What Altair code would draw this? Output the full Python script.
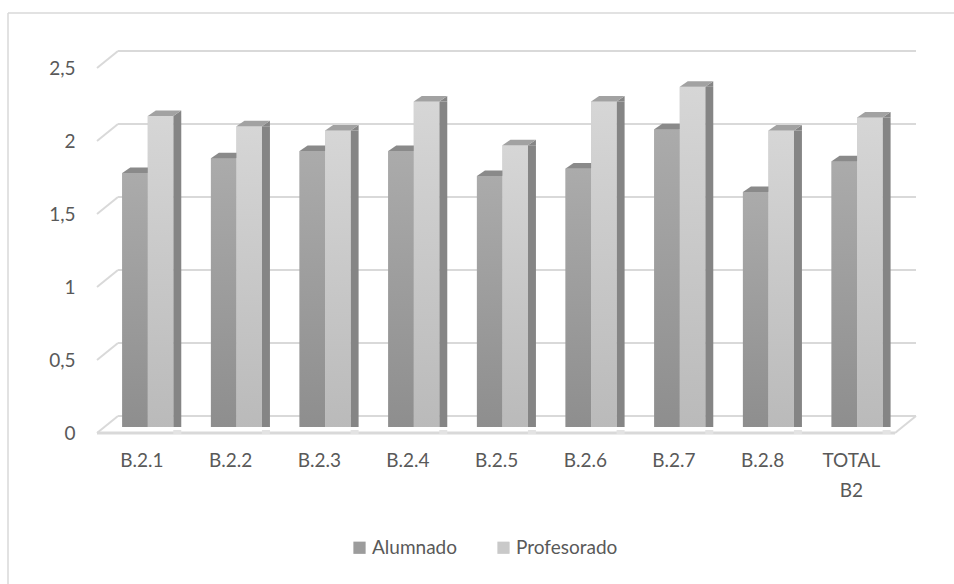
import altair as alt
import pandas as pd

# ---------------- data ----------------
categories = ["B.2.1", "B.2.2", "B.2.3", "B.2.4", "B.2.5", "B.2.6", "B.2.7", "B.2.8", "TOTAL B2"]
alumnado = [1.74, 1.84, 1.89, 1.89, 1.72, 1.77, 2.04, 1.61, 1.82]
profesorado = [2.13, 2.06, 2.03, 2.23, 1.93, 2.23, 2.33, 2.03, 2.12]
series_names = ["Alumnado", "Profesorado"]
y_ticks = [0, 0.5, 1, 1.5, 2, 2.5]

# ---------------- style / layout ----------------
FONT = "Lato"
TXT = "#595959"
GRID = "#d9d9d9"
W, H = 798, 365
PAD = {"left": 97, "top": 68, "right": 59, "bottom": 151}
DX, DY = 21, -17          # back-wall offset (px)
BASE_OFF = -6             # bars sit a bit behind the front edge
BW = 0.2876               # bar width in category units (~25.5 px)
START = 0.285             # bar start inside category
SIDE = 8 / 88.667         # side-face depth in category units
TOP_W = 25.5
TDX, TDY = 8, -5.5

n = len(categories)
df = pd.DataFrame({"cat": categories, "idx": list(range(n)),
                   "Alumnado": alumnado, "Profesorado": profesorado})
long = df.melt(id_vars=["cat", "idx"], value_vars=series_names,
               var_name="series", value_name="value")
ticks = pd.DataFrame({"v": y_ticks})

xs = alt.Scale(domain=[0, n], nice=False, zero=False)
ys = alt.Scale(domain=[0, 2.5], nice=False, zero=True)
YAX = alt.Axis(values=y_ticks, format="~g",
               labelExpr="replace(datum.label, '.', ',')",
               domain=False, ticks=False, grid=False,
               labelFont=FONT, labelFontSize=19, labelColor=TXT,
               labelPadding=22)


def yenc(field):
    return alt.Y(field, scale=ys, axis=YAX, title=None)


def xenc(field):
    return alt.X(field, scale=xs, axis=None, title=None)


bars_base = alt.Chart(long).transform_calculate(
    x0=f"datum.idx + {START} + (datum.series == 'Profesorado' ? {BW} : 0)",
    x1=f"datum.idx + {START} + {BW} + (datum.series == 'Profesorado' ? {BW} : 0)",
    xs2=f"datum.idx + {START} + (datum.series == 'Profesorado' ? {BW} : 0) + {BW} + {SIDE}",
    base="0",
)

# back wall gridlines
grid = alt.Chart(ticks).transform_calculate(a="0", b=str(n)).mark_rule(
    color=GRID, strokeWidth=2, xOffset=DX, x2Offset=DX, yOffset=DY
).encode(x=xenc("a:Q"), x2="b:Q", y=yenc("v:Q"))

# left diagonal connectors
diag = alt.Chart(ticks).transform_calculate(a="0").mark_rule(
    color=GRID, strokeWidth=2, x2Offset=DX, y2Offset=DY
).encode(x=xenc("a:Q"), x2="a:Q", y=yenc("v:Q"), y2="v:Q")

# floor front edge and right diagonal
floor_df = ticks[ticks["v"] == 0]
floor_front = alt.Chart(floor_df).transform_calculate(a="0", b=str(n)).mark_rule(
    color=GRID, strokeWidth=3
).encode(x=xenc("a:Q"), x2="b:Q", y=yenc("v:Q"))
floor_right = alt.Chart(floor_df).transform_calculate(b=str(n)).mark_rule(
    color=GRID, strokeWidth=2, x2Offset=DX, y2Offset=DY
).encode(x=xenc("b:Q"), x2="b:Q", y=yenc("v:Q"), y2="v:Q")

# floor shadows next to each group
shadow = bars_base.transform_filter("datum.series == 'Profesorado'").mark_bar(
    color="#e3e3e3", yOffset=-3, y2Offset=1
).encode(x=xenc("x1:Q"), x2="xs2:Q", y=yenc("base:Q"), y2="base:Q")

# solid front faces carrying the legend
front_solid = bars_base.mark_bar(yOffset=BASE_OFF, y2Offset=BASE_OFF).encode(
    x=xenc("x0:Q"), x2="x1:Q", y=yenc("value:Q"), y2="base:Q",
    color=alt.Color("series:N",
                    scale=alt.Scale(domain=series_names, range=["#9c9c9c", "#c9c9c9"]),
                    legend=alt.Legend(orient="none", legendX=253, legendY=470,
                                      direction="horizontal", title=None,
                                      symbolType="square", symbolSize=150,
                                      symbolStrokeWidth=0, labelFont=FONT,
                                      labelFontSize=19, labelColor=TXT,
                                      columnPadding=37, labelOffset=3)),
)


def grad(top, bottom):
    return alt.Gradient(gradient="linear", x1=0, x2=0, y1=0, y2=1,
                        stops=[alt.GradientStop(color=top, offset=0),
                               alt.GradientStop(color=bottom, offset=1)])


def front(series, top, bottom):
    return bars_base.transform_filter(f"datum.series == '{series}'").mark_bar(
        color=grad(top, bottom), yOffset=BASE_OFF, y2Offset=BASE_OFF
    ).encode(x=xenc("x0:Q"), x2="x1:Q", y=yenc("value:Q"), y2="base:Q")


top_path = f"M0,0 L{TOP_W},0 L{TOP_W + TDX},{TDY} L{TDX},{TDY} Z"
tri_path = f"M0,0 L{TDX},{TDY} L{TDX},0 Z"


def top_face(series, color):
    return bars_base.transform_filter(f"datum.series == '{series}'").mark_point(
        shape=top_path, size=4, filled=True, opacity=1, color=color,
        strokeWidth=0, yOffset=BASE_OFF
    ).encode(x=xenc("x0:Q"), y=yenc("value:Q"))


prof_side = bars_base.transform_filter("datum.series == 'Profesorado'").mark_bar(
    color="#858585", yOffset=BASE_OFF, y2Offset=BASE_OFF
).encode(x=xenc("x1:Q"), x2="xs2:Q", y=yenc("value:Q"), y2="base:Q")

prof_side_top = bars_base.transform_filter("datum.series == 'Profesorado'").mark_point(
    shape=tri_path, size=4, filled=True, opacity=1, color="#858585",
    strokeWidth=0, yOffset=BASE_OFF
).encode(x=xenc("x1:Q"), y=yenc("value:Q"))

# category labels
xlabels = alt.Chart(df).transform_calculate(xc="datum.idx + 0.507").mark_text(
    font=FONT, fontSize=19, color=TXT, baseline="top", align="center",
    lineBreak=" ", lineHeight=30
).encode(x=xenc("xc:Q"), y=alt.value(384), text="cat:N")

# chart border (top and left visible)
one = pd.DataFrame({"k": [0]})
border_l = alt.Chart(one).mark_rule(color="#d9d9d9", strokeWidth=1.5).encode(
    x=alt.value(-89), y=alt.value(-55), y2=alt.value(600))
border_t = alt.Chart(one).mark_rule(color="#d9d9d9", strokeWidth=1.5).encode(
    x=alt.value(-89), x2=alt.value(900), y=alt.value(-55))

chart = alt.layer(
    grid, diag, floor_front, floor_right, shadow,
    front_solid,
    front("Alumnado", "#ababab", "#8e8e8e"),
    top_face("Alumnado", "#8a8a8a"),
    prof_side, prof_side_top,
    front("Profesorado", "#d6d6d6", "#bababa"),
    top_face("Profesorado", "#a2a2a2"),
    xlabels,
    border_l, border_t,
).properties(
    width=W, height=H, padding=PAD,
    autosize=alt.AutoSizeParams(type="none"),
    background="white",
).configure_view(stroke=None)

chart.save("out.html", embed_options={"renderer": "svg", "actions": False})
